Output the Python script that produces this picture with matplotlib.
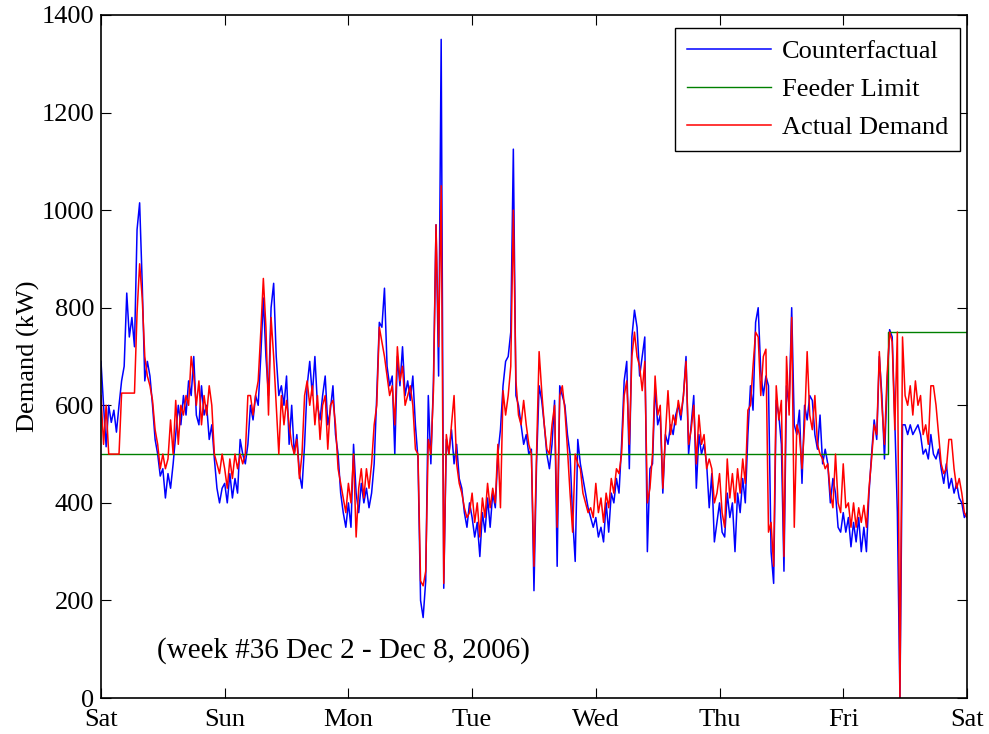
import numpy as np
import matplotlib.pyplot as plt

plt.rcParams['font.family'] = ['Liberation Serif', 'DejaVu Serif']

# half-hourly demand (kW), one list per day, Sat Dec 2 .. Fri Dec 8 2006
sat_cf = [690, 600, 515, 600, 565, 590, 545, 600, 650, 680, 830, 740, 780, 720, 960, 1015,
          850, 650, 690, 660, 600, 530, 500, 455, 470, 410, 460, 430, 480, 540, 600, 560,
          620, 580, 650, 620, 700, 580, 560, 640, 580, 600, 530, 560, 490, 430, 400, 430]
sun_cf = [440, 400, 460, 410, 450, 420, 530, 500, 480, 520, 600, 570, 620, 600, 700, 820,
          700, 620, 800, 850, 700, 620, 640, 600, 660, 520, 600, 500, 540, 460, 430, 520,
          640, 690, 620, 700, 600, 570, 620, 660, 560, 590, 640, 540, 500, 420, 380, 350]
mon_cf = [400, 350, 520, 420, 380, 440, 400, 430, 390, 420, 480, 620, 770, 760, 840, 680,
          640, 660, 500, 700, 640, 720, 620, 650, 610, 660, 560, 490, 200, 165, 240, 620,
          480, 650, 970, 660, 1350, 225, 530, 500, 550, 480, 520, 450, 430, 380, 350, 400]
tue_cf = [370, 330, 360, 290, 380, 340, 410, 350, 420, 390, 500, 550, 640, 690, 700, 750,
          1125, 620, 600, 560, 520, 540, 500, 510, 220, 480, 640, 610, 560, 500, 470, 520,
          610, 270, 640, 620, 600, 540, 500, 370, 280, 530, 480, 450, 420, 390, 370, 350]
wed_cf = [370, 330, 350, 320, 400, 340, 420, 400, 450, 420, 520, 650, 690, 470, 740, 795,
          760, 660, 700, 740, 300, 470, 480, 640, 560, 580, 420, 540, 520, 560, 540, 580,
          600, 570, 620, 700, 500, 560, 620, 430, 540, 500, 520, 480, 390, 460, 320, 360]
thu_cf = [400, 340, 330, 420, 370, 400, 300, 420, 380, 450, 400, 540, 640, 590, 770, 800,
          670, 620, 660, 640, 300, 235, 610, 580, 520, 260, 640, 600, 800, 560, 540, 590,
          440, 600, 570, 620, 610, 540, 510, 580, 480, 510, 480, 400, 450, 420, 350, 340]
fri_cf = [380, 340, 370, 310, 360, 320, 370, 300, 350, 300, 420, 500, 570, 530, 700, 620,
          490, 640, 755, 740, 570, 380, 0, 560, 560, 540, 560, 540, 550, 560, 540, 500,
          510, 490, 540, 500, 490, 510, 470, 440, 480, 430, 450, 420, 440, 410, 400, 370, 380]

sat_act = [620, 520, 600, 500, 500, 500, 500, 500, 625, 625, 625, 625, 625, 625, 790, 890,
           820, 700, 660, 640, 610, 550, 520, 470, 500, 470, 490, 570, 500, 610, 520, 600,
           580, 620, 600, 700, 660, 600, 650, 560, 620, 580, 640, 600, 500, 480, 460, 500]
sun_act = [470, 430, 490, 450, 500, 470, 500, 480, 500, 620, 620, 580, 620, 650, 750, 860,
           760, 580, 780, 700, 600, 500, 620, 560, 610, 560, 520, 500, 530, 450, 500, 620,
           650, 600, 640, 560, 620, 530, 600, 620, 510, 600, 610, 560, 470, 440, 410, 380]
mon_act = [440, 400, 500, 330, 430, 470, 410, 470, 430, 480, 560, 600, 760, 730, 700, 660,
           620, 640, 560, 720, 650, 680, 600, 620, 640, 600, 510, 500, 240, 230, 260, 530,
           500, 630, 970, 720, 1050, 235, 540, 500, 560, 620, 480, 440, 420, 390, 370, 380]
tue_act = [420, 360, 400, 330, 410, 370, 440, 390, 430, 400, 520, 390, 630, 580, 620, 680,
           1000, 650, 580, 560, 610, 560, 520, 500, 270, 500, 710, 630, 560, 510, 500, 560,
           600, 350, 620, 640, 590, 510, 420, 340, 500, 480, 470, 420, 400, 380, 390, 370]
wed_act = [440, 380, 410, 360, 420, 390, 450, 420, 470, 460, 500, 620, 650, 520, 700, 750,
           700, 680, 630, 690, 400, 430, 500, 660, 580, 600, 430, 540, 630, 540, 580, 560,
           610, 580, 620, 690, 520, 550, 600, 480, 580, 520, 540, 470, 490, 470, 400, 420]
thu_act = [460, 380, 350, 490, 410, 460, 400, 470, 420, 490, 440, 590, 600, 680, 750, 740,
           620, 700, 715, 340, 360, 270, 640, 570, 610, 290, 700, 580, 780, 350, 560, 540,
           470, 560, 710, 580, 550, 620, 520, 500, 490, 470, 480, 420, 390, 500, 400, 380]
fri_act = [480, 390, 400, 350, 400, 350, 390, 360, 395, 350, 430, 490, 560, 540, 710, 600,
           520, 660, 750, 730, 550, 750, 0, 740, 620, 600, 640, 580, 650, 600, 620, 540,
           560, 520, 640, 640, 600, 540, 480, 460, 470, 530, 530, 470, 430, 450, 420, 380, 370]

# feeder limit steps up on Friday morning
limit_days = [0, 6.358, 7]
limit_kw = [500, 750, 750]

day_labels = ['Sat', 'Sun', 'Mon', 'Tue', 'Wed', 'Thu', 'Fri', 'Sat']

counterfactual = np.array(sat_cf + sun_cf + mon_cf + tue_cf + wed_cf + thu_cf + fri_cf)
actual = np.array(sat_act + sun_act + mon_act + tue_act + wed_act + thu_act + fri_act)
t = np.arange(len(counterfactual)) / 48.0

fig = plt.figure(figsize=(9.89, 7.34), dpi=100)
ax = fig.add_axes([0.1021, 0.049, 0.8756, 0.9306])

ax.plot(t, counterfactual, color='#0000ff', lw=1.1, label='Counterfactual')
ax.step(limit_days, limit_kw, where='post', color='#008000', lw=1.0, label='Feeder Limit')
ax.plot(t, actual, color='#ff0000', lw=1.1, label='Actual Demand')

ax.set_xlim(0, 7)
ax.set_ylim(0, 1400)
ax.set_xticks(range(8))
ax.set_xticklabels(day_labels)
ax.set_yticks(range(0, 1401, 200))
ax.tick_params(direction='in', top=True, right=True, length=7, width=0.8,
               labelsize=19)
ax.tick_params(axis='x', pad=8)
ax.tick_params(axis='y', pad=5)
for s in ax.spines.values():
    s.set_linewidth(1.2)

ax.set_ylabel('Demand (kW)', fontsize=19, labelpad=1)
ax.text(0.453, 98, '(week #36 Dec 2 - Dec 8, 2006)', fontsize=21, va='center')

leg = ax.legend(loc='upper right', bbox_to_anchor=(0.992, 0.981), borderaxespad=0,
                fontsize=19, fancybox=False, framealpha=1, edgecolor='black',
                handlelength=3.2, handletextpad=0.4, labelspacing=0.55, borderpad=0.45)
leg.get_frame().set_linewidth(1.0)

fig.savefig('out.png', dpi=100)
